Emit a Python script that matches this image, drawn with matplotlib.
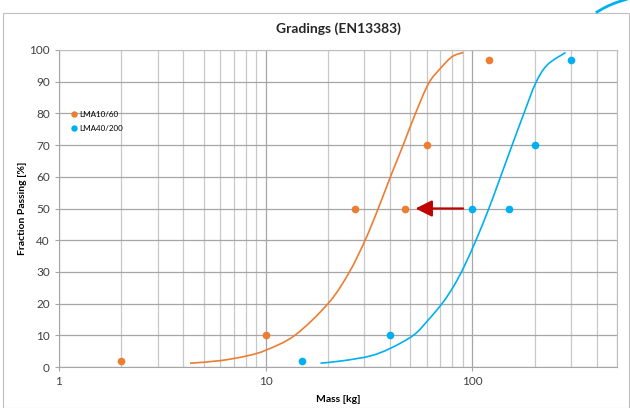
import numpy as np
import matplotlib
matplotlib.use('Agg')
import matplotlib.pyplot as plt
from matplotlib.patches import Rectangle, PathPatch
from matplotlib.path import Path
from matplotlib.lines import Line2D
from matplotlib.ticker import LogLocator, FixedLocator, NullFormatter

plt.rcParams['font.family'] = ['Lato', 'DejaVu Sans']

# measured points
lma10_mass = [2, 10, 27, 47, 60, 120]
lma10_pass = [2, 10, 50, 50, 70, 97]
lma40_mass = [15, 40, 100, 150, 200, 300]
lma40_pass = [2, 10, 50, 50, 70, 97]

# fitted grading curves
curve10_mass = [4.3, 6.0, 8.1, 10.1, 13.9, 20.2, 25.4, 30.3, 35, 40.1, 46.2,
                53, 61.4, 70, 79.7, 90.2]
curve10_pass = [1.2, 2.0, 3.5, 5.4, 10.1, 20.3, 30, 40.1, 50, 60, 70,
                80, 89.5, 94.2, 97.9, 99.2]
curve40_mass = [18.4, 23.8, 32.1, 40.1, 52, 61.4, 71.8, 81.1, 90.8, 104,
                120, 136.7, 155.5, 177.3, 201.9, 230, 282]
curve40_pass = [1.2, 2.0, 3.5, 5.9, 10.1, 15.0, 20.3, 25.5, 31.5, 40,
                50, 60, 70, 80, 89.5, 95.3, 99.2]

orange = '#ED7D31'
blue = '#00B0F0'


def smooth_path(xs, ys):
    # Excel style smoothed line: bezier segments built in log-x space
    u = np.log10(xs)
    y = np.asarray(ys, float)
    pts = np.column_stack([u, y])
    verts = [pts[0]]
    codes = [Path.MOVETO]
    n = len(pts)
    for i in range(n - 1):
        p0 = pts[max(i - 1, 0)]
        p1 = pts[i]
        p2 = pts[i + 1]
        p3 = pts[min(i + 2, n - 1)]
        c1 = p1 + (p2 - p0) / 6
        c2 = p2 - (p3 - p1) / 6
        verts += [c1, c2, p2]
        codes += [Path.CURVE4] * 3
    verts = np.array(verts)
    verts[:, 0] = 10 ** verts[:, 0]
    return Path(verts, codes)


fig = plt.figure(figsize=(6.3, 4.08), dpi=100)
ax = fig.add_axes([59/630, 1-367/408, (617-59)/630, (367-50)/408])

ax.set_xscale('log')
ax.set_xlim(1, 500)
ax.set_ylim(0, 100)

ax.add_patch(PathPatch(smooth_path(curve10_mass, curve10_pass), fill=False,
                       edgecolor=orange, lw=1.2))
ax.add_patch(PathPatch(smooth_path(curve40_mass, curve40_pass), fill=False,
                       edgecolor=blue, lw=1.2))
ax.plot(lma10_mass, lma10_pass, 'o', color=orange, ms=4.5, label='LMA10/60')
ax.plot(lma40_mass, lma40_pass, 'o', color=blue, ms=4.5, label='LMA40/200')

ax.annotate('', xy=(53, 50), xytext=(90, 50),
            arrowprops=dict(arrowstyle='-|>,head_length=1.0,head_width=0.5',
                            color='#C00000', lw=1.6, shrinkA=0, shrinkB=0))

ax.set_xlim(1, 500)
ax.set_ylim(0, 100)
ax.set_yticks(np.arange(0, 101, 10))
ax.xaxis.set_major_locator(FixedLocator([1, 10, 100]))
ax.xaxis.set_minor_locator(LogLocator(base=10, subs=np.arange(2, 10)))
ax.xaxis.set_minor_formatter(NullFormatter())
ax.set_xticklabels(['1', '10', '100'])
ax.grid(True, which='major', color='#a6a6a6', lw=0.9)
ax.grid(True, which='minor', axis='x', color='#c8c8c8', lw=0.9)
ax.tick_params(which='minor', length=0)
ax.tick_params(which='major', length=3, color='#a6a6a6', labelsize=8.5, labelcolor='#404040')
for s in ax.spines.values():
    s.set_color('#bfbfbf')
ax.spines['bottom'].set_color('#a6a6a6')
ax.spines['left'].set_color('#a6a6a6')
ax.set_axisbelow(True)

ax.set_xlabel('Mass [kg]', fontsize=7.5, fontweight='bold', labelpad=6)
ax.set_ylabel('Fraction Passing [%]', fontsize=7.5, fontweight='bold', labelpad=2)
ax.set_title('Gradings (EN13383)', fontsize=10, fontweight='bold', pad=12, color='#262626')

ax.legend(loc='upper left', bbox_to_anchor=(0.01, 0.83), frameon=False,
          fontsize=5.8, handlelength=0.6, handletextpad=0.3, labelspacing=0.8,
          markerscale=0.8)

# outer chart frame and decorative swoosh in the corner
fig.patches.append(Rectangle((3/630, 0), 626/630, 1-13/408, transform=fig.transFigure,
                             fill=False, edgecolor='#bfbfbf', lw=0.8))
sx = np.array([597, 603, 609, 615, 621, 626]) / 630
sy = 1 - np.array([12, 8.5, 5.5, 3, 1, -0.5]) / 408
fig.lines.append(Line2D(sx, sy, transform=fig.transFigure, color=blue, lw=2))

fig.savefig('out.png', dpi=100)
